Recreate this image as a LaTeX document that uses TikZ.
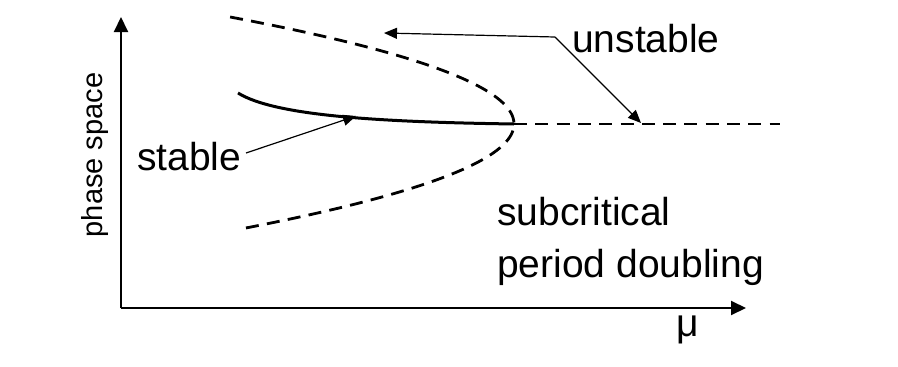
\documentclass[tikz,border=0pt]{standalone}
\usepackage{fontspec}
\setmainfont{Liberation Sans}
\usetikzlibrary{arrows.meta}
\tikzset{
  axis/.style={line width=2pt,-{Triangle[length=15pt,width=14pt]}},
  branch/.style={line width=2.8pt,dash pattern=on 13pt off 8.3pt},
  pointer/.style={line width=1.2pt,-{Triangle[length=13pt,width=11pt]}},
  lbl/.style={font=\fontsize{39}{46}\selectfont,inner sep=0pt},
}
\begin{document}
\begin{tikzpicture}[x=1pt,y=-1pt]
\useasboundingbox[fill=white] (0,0) rectangle (898,367);
% axes
\coordinate (O) at (121,308);
\coordinate (Ytip) at (121,17);
\coordinate (Xtip) at (746,308);
\draw[axis] (O) -- (Ytip);
\draw[axis] (O) -- (Xtip);
\node[lbl,font=\fontsize{29}{34}\selectfont,rotate=90] (ylab) at (95,155) {phase space};
\node[lbl,anchor=base] (xlab) at (688,336) {μ};
% unstable parabola
\draw[branch] plot[domain=-107:104,samples=80,smooth] ({514-0.0248*\x*\x},{124+\x});
% stable branch
\coordinate (S0) at (238,93);
\coordinate (V) at (514,124);
\coordinate (E) at (780,124);
\draw[line width=3pt] (S0) .. controls (275,116) and (380,122) .. (V);
\draw[branch] (V) -- (E);
% labels
\node[lbl,anchor=base west] (stable) at (137,170) {stable};
\node[lbl,anchor=base west] (unstable) at (572,52) {unstable};
\node[lbl,anchor=base west,align=left] (sub) at (497,225) {subcritical};
\node[lbl,anchor=base west,align=left] (pd) at (497,277) {period doubling};
% pointers
\coordinate (J) at (555,37);
\coordinate (T1) at (384,33);
\coordinate (T2) at (641,123);
\coordinate (T3) at (356,116);
\coordinate (SP) at (246,153);
\draw[pointer] (J) -- (T1);
\draw[pointer] (J) -- (T2);
\draw[pointer] (SP) -- (T3);
\end{tikzpicture}
\end{document}
